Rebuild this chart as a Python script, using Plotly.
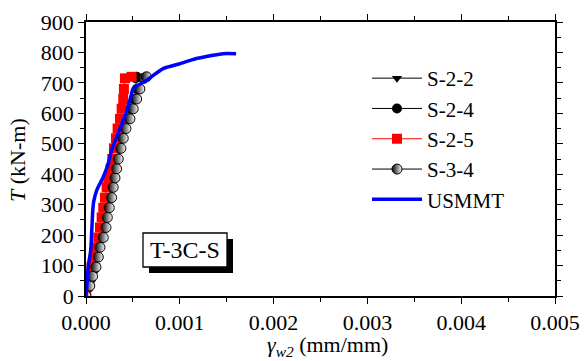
import plotly.graph_objects as go

# ---- data ----
T_exp = [0, 33, 65, 95, 128, 160, 192, 225, 258, 290, 323, 357, 388, 418, 450, 485, 518, 550, 582, 615, 647, 680, 715, 720]

g_S25 = [0.0, 0.000015, 0.00003, 0.00006, 0.000088, 0.000114, 0.000131, 0.000149, 0.000167, 0.000184,
         0.000202, 0.00022, 0.000238, 0.000263, 0.00028, 0.000298, 0.000319, 0.000337, 0.000362,
         0.00038, 0.000397, 0.000404, 0.000415, 0.000486]
g_S34 = [0.0, 0.00004, 0.00007, 0.000106, 0.000131, 0.000149, 0.000184, 0.000213, 0.000227, 0.000248,
         0.000273, 0.00029, 0.000309, 0.000326, 0.000344, 0.000372, 0.000397, 0.000426, 0.000468,
         0.000503, 0.00054, 0.000574, 0.000615, 0.000645]
g_S24 = [0.0, 0.00003, 0.00006, 0.00009, 0.000115, 0.000132, 0.000165, 0.000193, 0.000207, 0.000228,
         0.000253, 0.00027, 0.000289, 0.000306, 0.000324, 0.00035, 0.000375, 0.0004, 0.00044,
         0.000475, 0.00051, 0.00054, 0.00053, 0.00054]
T_S22 = [0, 15, 30, 45, 60, 75, 90, 100]
g_S22 = [0.000005, 0.000025, 0.00004, 0.000055, 0.00007, 0.000085, 0.000095, 0.0001]

T_usm = [0, 100, 150, 280, 310, 347, 391, 435, 479, 550, 600, 650, 681, 708, 747, 763, 780, 791, 796, 796]
g_usm = [0.0, 0.000025, 0.00005, 0.000072, 0.000082, 0.000114, 0.000184, 0.000237, 0.000273, 0.000362,
         0.000426, 0.000475, 0.000503, 0.000645, 0.000822, 0.001, 0.001177, 0.001355, 0.00146, 0.0016]

x_ticks = [0.000, 0.001, 0.002, 0.003, 0.004, 0.005]
x_tick_labels = ["0.000", "0.001", "0.002", "0.003", "0.004", "0.005"]
y_ticks = [0, 100, 200, 300, 400, 500, 600, 700, 800, 900]

FONT = "Liberation Serif"

# plot area in pixels
L, R, TOP, BOT = 86, 555, 22, 296
W, H = 587, 361
def px(xp):
    return (xp - L) / (R - L)
def py(yp):
    return (BOT - yp) / (BOT - TOP)

fig = go.Figure()
fig.add_trace(go.Scatter(x=g_S22, y=T_S22, mode="lines+markers", name="S-2-2",
                         line=dict(color="black", width=1),
                         marker=dict(symbol="triangle-down", size=9, color="black")))
fig.add_trace(go.Scatter(x=g_S24, y=T_exp, mode="lines+markers", name="S-2-4",
                         line=dict(color="black", width=1),
                         marker=dict(symbol="circle", size=10, color="black")))
fig.add_trace(go.Scatter(x=g_S25, y=T_exp, mode="lines+markers", name="S-2-5",
                         line=dict(color="red", width=1),
                         marker=dict(symbol="square", size=10, color="red")))
fig.add_trace(go.Scatter(x=g_S34, y=T_exp, mode="lines+markers", name="S-3-4",
                         line=dict(color="black", width=1),
                         marker=dict(symbol="circle", size=10, color="black",
                                     gradient=dict(type="horizontal", color="white"),
                                     line=dict(color="black", width=1))))
fig.add_trace(go.Scatter(x=g_usm, y=T_usm, mode="lines", name="USMMT",
                         line=dict(color="#0000ff", width=3.5, shape="spline", smoothing=0.6)))

# text box with shadow
fig.add_shape(type="rect", xref="paper", yref="paper",
              x0=px(149), x1=px(233), y0=py(273), y1=py(239),
              fillcolor="black", line=dict(width=0))
fig.add_shape(type="rect", xref="paper", yref="paper",
              x0=px(143), x1=px(227), y0=py(267), y1=py(233),
              fillcolor="white", line=dict(color="black", width=1.3))
fig.add_annotation(xref="paper", yref="paper", x=px(185), y=py(250),
                   xanchor="center", yanchor="middle",
                   text="T-3C-S", showarrow=False,
                   font=dict(family=FONT, size=24, color="black"))

# axis titles
fig.add_annotation(xref="paper", yref="paper", x=px(327), y=py(346),
                   xanchor="center", yanchor="middle", showarrow=False,
                   text="<i>γ<sub>w2</sub></i> (mm/mm)",
                   font=dict(family=FONT, size=22, color="black"))
fig.add_annotation(xref="paper", yref="paper", x=px(18), y=py(160),
                   xanchor="center", yanchor="middle", showarrow=False, textangle=-90,
                   text="<i>T</i> (kN-m)",
                   font=dict(family=FONT, size=22, color="black"))

axis_common = dict(showline=True, linecolor="black", linewidth=1.5, mirror="allticks",
                   ticks="outside", ticklen=6, tickwidth=1.3, tickcolor="black",
                   showgrid=False, zeroline=False, automargin=False,
                   tickfont=dict(family=FONT, size=22, color="black"))

fig.update_xaxes(range=[0, 0.005], tickvals=x_ticks, ticktext=x_tick_labels,
                 minor=dict(dtick=0.0005, ticks="outside", ticklen=4, tickcolor="black", tickwidth=1.2),
                 **axis_common)
fig.update_yaxes(range=[0, 900], tickvals=y_ticks,
                 minor=dict(dtick=50, ticks="outside", ticklen=4, tickcolor="black", tickwidth=1.2),
                 **axis_common)

fig.update_layout(width=W, height=H, margin=dict(l=L, r=W - R, t=TOP, b=H - BOT),
                  plot_bgcolor="white", paper_bgcolor="white",
                  font=dict(family=FONT, color="black"),
                  legend=dict(x=px(367), y=py(58), xanchor="left", yanchor="top",
                              bgcolor="rgba(0,0,0,0)", font=dict(family=FONT, size=21, color="black"),
                              tracegroupgap=0, itemwidth=50))

fig.write_html("out.html", config={"displayModeBar": False},
               post_script="document.body.style.margin='0';document.body.style.padding='0';")
